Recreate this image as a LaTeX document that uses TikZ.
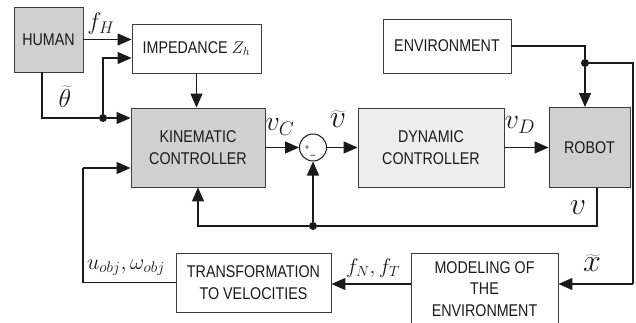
\RequirePackage{fix-cm}
\documentclass[tikz,border=0pt]{standalone}
\usepackage{fontspec}
\setmainfont{Liberation Sans}[FakeStretch=0.84]
\usetikzlibrary{arrows.meta,positioning,calc}
\definecolor{ink}{HTML}{1A1A1A}
\definecolor{edge}{HTML}{3C3C3C}
\definecolor{grayd}{HTML}{D0D0D0}
\definecolor{grayl}{HTML}{EDEDED}

\begin{document}
\begin{tikzpicture}[x=1pt, y=-1pt,
      blk/.style={draw=edge, line width=0.9pt, fill=white, align=center, inner sep=2pt, font=\fontsize{17}{21.5}\selectfont, text=ink},
      dark/.style={blk, fill=grayd},
      lite/.style={blk, fill=grayl},
      lbl/.style={inner sep=0pt, text=ink},
      wire/.style={line width=1.2pt, color=ink},
      arr/.style={wire, -{Triangle[length=14pt, width=12pt]}},
      dot/.style={circle, fill=ink, inner sep=0pt, minimum size=8pt}]
    \useasboundingbox (0,0) rectangle (636,323);
    \node[dark, minimum width=69pt, minimum height=65pt] (human) at (48.5,39.5) {HUMAN};
    \node[blk, minimum width=129pt, minimum height=49pt] (imped) at (196.5,48.5) {IMPEDANCE $Z_h$};
    \node[dark, minimum width=134pt, minimum height=79pt] (kin) at (198,147.5) {KINEMATIC\\CONTROLLER};
    \node[circle, draw=ink, line width=1pt, fill=white, minimum size=27pt, inner sep=0pt] (sum) at (313,147.5) {};
    \node[lbl, font=\fontsize{9}{9}\selectfont] (plus) at ($(sum.center)+(-6,0)$) {+};
    \node[lbl, font=\fontsize{11}{11}\selectfont] (minus) at ($(sum.center)+(0,9)$) {--};
    \node[lite, minimum width=146pt, minimum height=79pt] (dyn) at (431,147.5) {DYNAMIC\\CONTROLLER};
    \node[dark, minimum width=81pt, minimum height=80pt] (robot) at (589.5,147.5) {ROBOT};
    \node[blk, minimum width=128pt, minimum height=54pt] (env) at (447,46) {ENVIRONMENT};
    \node[blk, minimum width=147pt, minimum height=72pt] (model) at (484.5,289) {MODELING OF\\THE\\ENVIRONMENT};
    \node[blk, minimum width=155pt, minimum height=59pt] (trans) at (253.5,282.5) {TRANSFORMATION\\TO VELOCITIES};
    \node[dot] (j1) at (103,118) {};
    \node[dot] (j2) at (585,63) {};
    \node[dot] (j3) at (313,226) {};
    \coordinate (hb) at ([xshift=-6.5pt]human.south);
    \coordinate (rb) at ([xshift=7.5pt]robot.south);
    \coordinate (cr) at (633,284);
    \coordinate (cl) at (83,168);
    \draw[arr] (human.east) -- (human.east -| imped.west);
    \draw[wire] (hb) |- (j1);
    \draw[arr] (j1) -- (j1 -| kin.west);
    \draw[arr] (j1) |- ([yshift=-9.5pt]imped.west);
    \draw[arr] (imped.south) -- (imped.south |- kin.north);
    \draw[arr] (kin.east) -- (sum.west);
    \draw[arr] (sum.east) -- (dyn.west);
    \draw[arr] (dyn.east) -- (robot.west);
    \draw[wire] (env.east) -| (j2);
    \draw[arr] (j2) -- (j2 |- robot.north);
    \draw[wire] (j2) -| (cr);
    \draw[arr] (cr) -- (cr -| model.east);
    \draw[arr] (cr -| model.west) -- (cr -| trans.east);
    \draw[wire] (trans.west) -| (cl);
    \draw[arr] (cl) -- (cl -| kin.west);
    \draw[wire] (rb) |- (j3);
    \draw[arr] (j3) -- (sum.south);
    \draw[arr] (j3) -| (kin.south);
    \node[lbl, font=\fontsize{24}{24}\selectfont] (fh) at (101,24) {$f_H$};
    \node[lbl, font=\fontsize{26}{26}\selectfont] (theta) at (65,97) {$\widetilde{\theta}$};
    \node[lbl, font=\fontsize{28}{28}\selectfont] (vc) at (280,127) {$v_C$};
    \node[lbl, font=\fontsize{32}{32}\selectfont] (verr) at (338,119) {$\widetilde{v}$};
    \node[lbl, font=\fontsize{28}{28}\selectfont] (vd) at (520,125) {$v_D$};
    \node[lbl, font=\fontsize{32}{32}\selectfont] (v) at (578,208) {$v$};
    \node[lbl, font=\fontsize{32}{32}\selectfont] (xt) at (592,263) {$\widetilde{x}$};
    \node[lbl, font=\fontsize{21}{21}\selectfont] (fnt) at (373,268) {$f_N, f_T$};
    \node[lbl, font=\fontsize{22}{22}\selectfont] (uw) at (126,268) {$u_{obj}, \omega_{obj}$};
  \end{tikzpicture}
\end{document}
